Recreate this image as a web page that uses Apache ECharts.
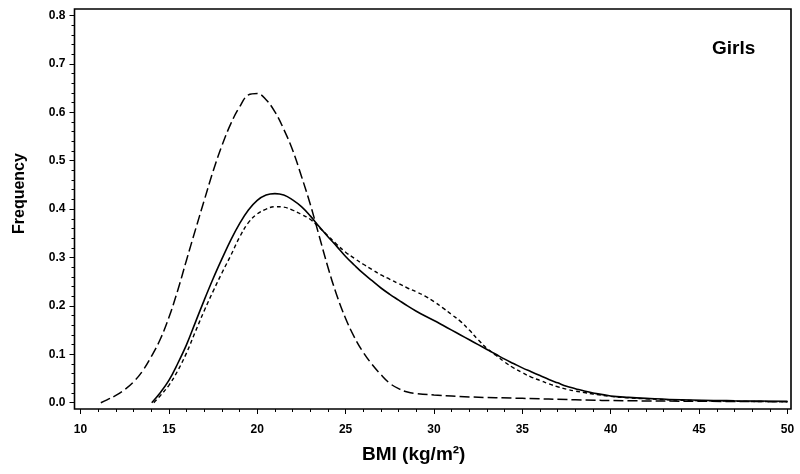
<!DOCTYPE html>
<html>
<head>
<meta charset="utf-8">
<script src="https://cdn.jsdelivr.net/npm/echarts@6/dist/echarts.min.js"></script>
<style>
  html, body { margin: 0; padding: 0; background: #fff; }
  #chart { width: 800px; height: 474px; }
</style>
</head>
<body>
<div id="chart"></div>
<script>
// tick labels
const xTicks = [10, 15, 20, 25, 30, 35, 40, 45, 50];
const yTicks = [0, 0.1, 0.2, 0.3, 0.4, 0.5, 0.6, 0.7, 0.8];

// long dashed curve
const bmiA = [11.15, 11.5, 12.0, 12.5, 13.0, 13.5, 14.0, 14.5, 15.0, 15.5, 16.0, 16.5, 17.0, 17.5, 18.0, 18.5, 19.0, 19.5, 20.0, 20.5, 21.0, 21.5, 22.0, 22.5, 23.0, 23.5, 24.0, 24.5, 25.0, 25.5, 26.0, 26.5, 27.0, 27.5, 28.0, 28.5, 29.0, 30.0, 32.0, 35.0, 38.0, 41.0, 45.0, 50.0];
const freqA = [0, 0.006, 0.015, 0.027, 0.043, 0.065, 0.095, 0.13, 0.176, 0.232, 0.295, 0.357, 0.418, 0.478, 0.531, 0.576, 0.611, 0.636, 0.639, 0.626, 0.601, 0.565, 0.522, 0.468, 0.41, 0.345, 0.28, 0.222, 0.174, 0.135, 0.104, 0.079, 0.058, 0.04, 0.029, 0.022, 0.019, 0.016, 0.012, 0.009, 0.006, 0.004, 0.003, 0.002];

// solid curve
const bmiB = [14.03, 14.5, 15.0, 15.5, 16.0, 16.5, 17.0, 17.5, 18.0, 18.5, 19.0, 19.5, 20.0, 20.5, 21.0, 21.5, 22.0, 22.5, 23.0, 23.5, 24.0, 24.5, 25.0, 25.5, 26.0, 26.5, 27.0, 27.5, 28.0, 28.5, 29.0, 29.5, 30.0, 30.5, 31.0, 31.5, 32.0, 32.5, 33.0, 33.5, 34.0, 34.5, 35.0, 35.5, 36.0, 36.5, 37.0, 37.5, 38.0, 38.5, 39.0, 40.0, 41.0, 42.0, 44.0, 47.0, 50.0];
const freqB = [0, 0.02, 0.046, 0.081, 0.12, 0.166, 0.212, 0.256, 0.297, 0.336, 0.37, 0.398, 0.418, 0.429, 0.432, 0.429, 0.419, 0.405, 0.386, 0.364, 0.343, 0.323, 0.302, 0.284, 0.267, 0.252, 0.237, 0.224, 0.212, 0.2, 0.189, 0.179, 0.17, 0.16, 0.15, 0.14, 0.13, 0.12, 0.11, 0.1, 0.09, 0.081, 0.072, 0.064, 0.056, 0.048, 0.041, 0.034, 0.029, 0.024, 0.02, 0.014, 0.011, 0.009, 0.006, 0.004, 0.003];

// short dashed curve
const bmiC = [14.15, 14.5, 15.0, 15.5, 16.0, 16.5, 17.0, 17.5, 18.0, 18.5, 19.0, 19.5, 20.0, 20.5, 21.0, 21.5, 22.0, 22.5, 23.0, 23.5, 24.0, 24.5, 25.0, 25.5, 26.0, 26.5, 27.0, 27.5, 28.0, 28.5, 29.0, 29.5, 30.0, 30.5, 31.0, 31.5, 32.0, 32.5, 33.0, 33.5, 34.0, 34.5, 35.0, 35.5, 36.0, 36.5, 37.0, 37.5, 38.0, 38.5, 39.0, 40.0, 41.0, 42.0, 44.0, 47.0, 50.0];
const freqC = [0, 0.014, 0.036, 0.066, 0.103, 0.147, 0.19, 0.23, 0.268, 0.304, 0.342, 0.372, 0.39, 0.4, 0.405, 0.404, 0.398, 0.389, 0.379, 0.362, 0.345, 0.327, 0.311, 0.298, 0.286, 0.275, 0.264, 0.255, 0.246, 0.237, 0.229, 0.22, 0.209, 0.196, 0.182, 0.168, 0.15, 0.13, 0.112, 0.098, 0.084, 0.072, 0.062, 0.053, 0.046, 0.039, 0.033, 0.028, 0.024, 0.021, 0.018, 0.013, 0.01, 0.008, 0.005, 0.003, 0.002];

// minor tick spots (every 1 BMI, every 0.02 frequency)
const xMinor = [];
for (let v = 10; v <= 50; v++) xMinor.push(v);
const yMinor = [];
for (let i = 0; i <= 40; i++) yMinor.push(+(i * 0.02).toFixed(2));

const pairs = (xs, ys) => xs.map((x, i) => [x, ys[i]]);

const lbl = { color: '#000', fontFamily: 'Liberation Sans, Arial, sans-serif', fontWeight: 'bold', fontSize: 12 };
const X_MIN = 9.66, X_MAX = 50.2, Y_MIN = -0.013, Y_MAX = 0.8134;

const chart = echarts.init(document.getElementById('chart'));
chart.setOption({
  animation: false,
  backgroundColor: '#fff',
  grid: { left: 74.5, right: 9, top: 9, bottom: 65, show: true, borderColor: '#000', borderWidth: 1.6 },
  xAxis: [
    {
      type: 'value', min: X_MIN, max: X_MAX, position: 'bottom',
      axisLine: { show: false, onZero: false },
      splitLine: { show: false },
      axisTick: { show: true, inside: false, length: 5, customValues: xTicks, lineStyle: { color: '#000', width: 1 } },
      axisLabel: Object.assign({ customValues: xTicks, margin: 15 }, lbl)
    },
    {
      type: 'value', min: X_MIN, max: X_MAX, position: 'bottom',
      axisLine: { show: false, onZero: false },
      splitLine: { show: false },
      axisTick: { show: true, inside: false, length: 3, customValues: xMinor, lineStyle: { color: '#000', width: 1 } },
      axisLabel: { show: false }
    }
  ],
  yAxis: [
    {
      type: 'value', min: Y_MIN, max: Y_MAX, position: 'left',
      axisLine: { show: false, onZero: false },
      splitLine: { show: false },
      axisTick: { show: true, inside: false, length: 5, customValues: yTicks, lineStyle: { color: '#000', width: 1 } },
      axisLabel: Object.assign({ customValues: yTicks, margin: 9, formatter: v => v.toFixed(1) }, lbl)
    },
    {
      type: 'value', min: Y_MIN, max: Y_MAX, position: 'left',
      axisLine: { show: false, onZero: false },
      splitLine: { show: false },
      axisTick: { show: true, inside: false, length: 3, customValues: yMinor, lineStyle: { color: '#000', width: 1 } },
      axisLabel: { show: false }
    }
  ],
  graphic: [
    { type: 'text', left: 362, top: 445, style: { text: 'BMI (kg/m²)', fill: '#000', font: 'bold 19px Liberation Sans, Arial, sans-serif' } },
    { type: 'text', x: 12, y: 234, rotation: Math.PI / 2, style: { text: 'Frequency', fill: '#000', font: 'bold 16px Liberation Sans, Arial, sans-serif' } },
    { type: 'text', left: 712, top: 39, style: { text: 'Girls', fill: '#000', font: 'bold 19px Liberation Sans, Arial, sans-serif' } }
  ],
  series: [
    {
      type: 'line', data: pairs(bmiA, freqA), smooth: 0.4, showSymbol: false,
      lineStyle: { color: '#000', width: 1.5, type: [10, 4] }
    },
    {
      type: 'line', data: pairs(bmiB, freqB), smooth: 0.4, showSymbol: false,
      lineStyle: { color: '#000', width: 1.6, type: 'solid' }
    },
    {
      type: 'line', data: pairs(bmiC, freqC), smooth: 0.4, showSymbol: false,
      lineStyle: { color: '#000', width: 1.4, type: [4, 3] }
    }
  ]
});
</script>
</body>
</html>
